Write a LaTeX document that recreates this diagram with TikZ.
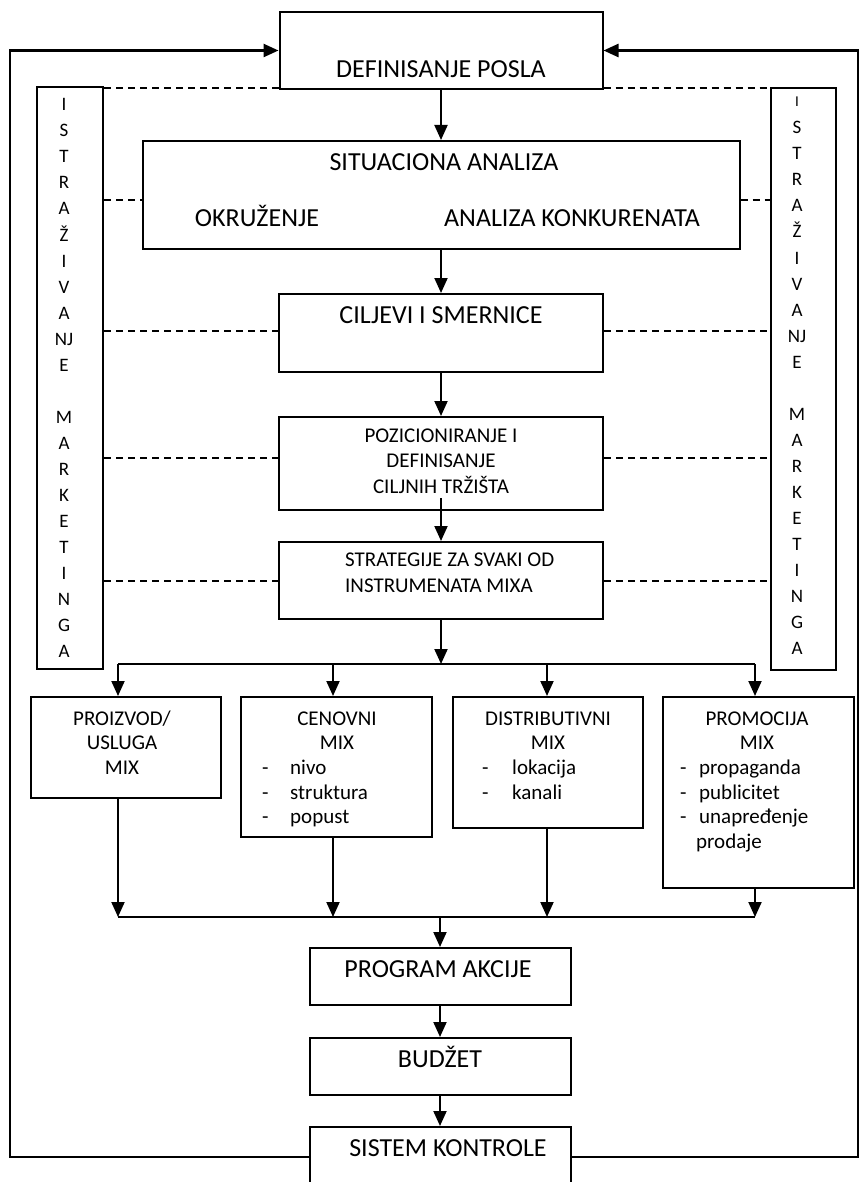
\documentclass[tikz,border=0pt]{standalone}
\usepackage{fontspec}
\setmainfont{Carlito}
\usetikzlibrary{arrows.meta}
\tikzset{
  box/.style={draw, line width=2pt, rectangle, inner sep=0pt},
  big/.style={font=\fontsize{26}{31}\selectfont, inner sep=0pt, anchor=base},
  small/.style={font=\fontsize{21}{25}\selectfont, inner sep=0pt, anchor=base},
  smallw/.style={font=\fontsize{21}{25}\selectfont, inner sep=0pt, anchor=base west},
  vl/.style={font=\fontsize{19}{24}\selectfont, inner sep=0pt, anchor=base},
  arr/.style={line width=2pt, -{Triangle[length=15pt,width=13pt]}},
  ln/.style={line width=2pt},
  loopln/.style={line width=2.5pt, -{Triangle[length=15pt,width=13pt]}},
  dsh/.style={line width=1.6pt, dash pattern=on 7pt off 5pt},
}
\begin{document}
\begin{tikzpicture}[x=1pt,y=-1pt]
\useasboundingbox (0,0) rectangle (861,1182);
\clip (0,0) rectangle (861,1182);

% main column boxes
\node[box, minimum width=323pt, minimum height=77pt] (def) at (441,50.5) {};
\node[big] (tdef) at (441,78) {DEFINISANJE POSLA};

\node[box, minimum width=597pt, minimum height=108pt] (sit) at (441,195) {};
\node[big] (tsit) at (444,171) {SITUACIONA ANALIZA};
\node[big] (tokr) at (257,227) {OKRUŽENJE};
\node[big] (tkon) at (572,227) {ANALIZA KONKURENATA};

\node[box, minimum width=324pt, minimum height=78pt] (cil) at (441,333) {};
\node[big] (tcil) at (441,323) {CILJEVI I SMERNICE};

\node[box, minimum width=324pt, minimum height=93pt] (poz) at (441,463.5) {};
\node[small] (tpoz1) at (441,442) {POZICIONIRANJE I};
\node[small] (tpoz2) at (441,467.5) {DEFINISANJE};
\node[small] (tpoz3) at (441,493) {CILJNIH TRŽIŠTA};

\node[box, minimum width=324pt, minimum height=77pt] (str) at (441,580.5) {};
\node[smallw] (tstr1) at (345,566) {STRATEGIJE ZA SVAKI OD};
\node[smallw] (tstr2) at (345,592) {INSTRUMENATA MIXA};

% research boxes
\node[box, minimum width=66pt, minimum height=582pt] (lres) at (70,378) {};
\node[box, minimum width=65pt, minimum height=582pt] (rres) at (803.5,379) {};
\foreach \t [count=\i] in {I,S,T,R,A,Ž,I,V,A,NJ,E,{},M,A,R,K,E,T,I,N,G,A}
  \node[vl] (ll\i) at (64,{111+26*(\i-1)}) {\t};
\node[vl, font=\fontsize{15}{18}\selectfont] (rl1) at (797,107) {I};
\foreach \t [count=\i from 2] in {S,T,R,A,Ž,I,V,A,NJ,E,{},M,A,R,K,E,T,I,N,G,A}
  \node[vl] (rl\i) at (797,{108+26*(\i-1)}) {\t};

% dashed links
\draw[dsh] (lres.east |- 0,88) -- (def.west |- 0,88);
\draw[dsh] (def.east |- 0,88) -- (rres.west |- 0,88);
\draw[dsh] (lres.east |- 0,200) -- (sit.west |- 0,200);
\draw[dsh] (sit.east |- 0,200) -- (rres.west |- 0,200);
\draw[dsh] (lres.east |- 0,331) -- (cil.west |- 0,331);
\draw[dsh] (cil.east |- 0,331) -- (rres.west |- 0,331);
\draw[dsh] (lres.east |- 0,458) -- (poz.west |- 0,458);
\draw[dsh] (poz.east |- 0,458) -- (rres.west |- 0,458);
\draw[dsh] (lres.east |- 0,581) -- (str.west |- 0,581);
\draw[dsh] (str.east |- 0,581) -- (rres.west |- 0,581);

% main arrows
\draw[arr] (def.south) -- (sit.north);
\draw[arr] (sit.south) -- (cil.north);
\draw[arr] (cil.south) -- (poz.north);
\draw[arr] ([yshift=13pt]poz.south) -- (str.north);
\coordinate (bt) at (441,664);
\draw[arr] (str.south) -- (bt);

% mix boxes
\node[box, minimum width=190pt, minimum height=101pt] (m1) at (126,747.5) {};
\node[box, minimum width=191pt, minimum height=140pt] (m2) at (336.5,767) {};
\node[box, minimum width=190pt, minimum height=131pt] (m3) at (548,762.5) {};
\node[box, minimum width=191pt, minimum height=191pt] (m4) at (758.5,792.5) {};

\node[small] (t11) at (122,725) {PROIZVOD/};
\node[small] (t12) at (122,749.5) {USLUGA};
\node[small] (t13) at (122,774) {MIX};

\node[small] (t21) at (337,725) {CENOVNI};
\node[small] (t22) at (337,749.5) {MIX};
\node[smallw] (t23) at (262,774) {\makebox[28pt][l]{-}nivo};
\node[smallw] (t24) at (262,799) {\makebox[28pt][l]{-}struktura};
\node[smallw] (t25) at (262,823.5) {\makebox[28pt][l]{-}popust};

\node[small] (t31) at (548,725) {DISTRIBUTIVNI};
\node[small] (t32) at (548,749.5) {MIX};
\node[smallw] (t33) at (482,774) {\makebox[30pt][l]{-}lokacija};
\node[smallw] (t34) at (482,799) {\makebox[30pt][l]{-}kanali};

\node[small] (t41) at (757,725) {PROMOCIJA};
\node[small] (t42) at (757,749.5) {MIX};
\node[smallw] (t43) at (680,774) {\makebox[19pt][l]{-}propaganda};
\node[smallw] (t44) at (680,799) {\makebox[19pt][l]{-}publicitet};
\node[smallw] (t45) at (680,823.5) {\makebox[19pt][l]{-}unapređenje};
\node[smallw] (t46) at (696,848) {prodaje};

% distribution bar
\coordinate (b1) at (118,664);
\coordinate (b2) at (333,664);
\coordinate (b3) at (547,664);
\coordinate (b4) at (755,664);
\draw[ln] (b1) -- (b4);
\draw[arr] (b1) -- (b1 |- m1.north);
\draw[arr] (b2) -- (b2 |- m2.north);
\draw[arr] (b3) -- (b3 |- m3.north);
\draw[arr] (b4) -- (b4 |- m4.north);

% collection bar
\coordinate (c1) at (118,917);
\coordinate (c2) at (333,917);
\coordinate (c3) at (547,917);
\coordinate (c4) at (755,917);
\draw[ln] (c1) -- (c4);
\draw[arr] (b1 |- m1.south) -- (c1);
\draw[arr] (b2 |- m2.south) -- (c2);
\draw[arr] (b3 |- m3.south) -- (c3);
\draw[arr] (b4 |- m4.south) -- (c4);

% lower column
\node[box, minimum width=261pt, minimum height=57pt] (prog) at (440,976.5) {};
\node[big] (tprog) at (438,977) {PROGRAM AKCIJE};
\node[box, minimum width=261pt, minimum height=57pt] (bud) at (440,1066.5) {};
\node[big] (tbud) at (440,1067) {BUDŽET};
\node[box, minimum width=261pt, minimum height=73pt] (sis) at (440,1163.5) {};
\node[big] (tsis) at (448,1156) {SISTEM KONTROLE};

\coordinate (cm) at (440,917);
\draw[arr] (cm) -- (prog.north);
\draw[arr] (prog.south) -- (bud.north);
\draw[arr] (bud.south) -- (sis.north);

% feedback loop
\coordinate (lb) at (10,1157);
\coordinate (ltp) at (10,50.5);
\coordinate (rb) at (858,1157);
\coordinate (rtp) at (858,50.5);
\draw[loopln] (sis.west |- lb) -- (lb) -- (ltp) -- (def.west);
\draw[loopln] (sis.east |- rb) -- (rb) -- (rtp) -- (def.east);
\end{tikzpicture}
\end{document}
